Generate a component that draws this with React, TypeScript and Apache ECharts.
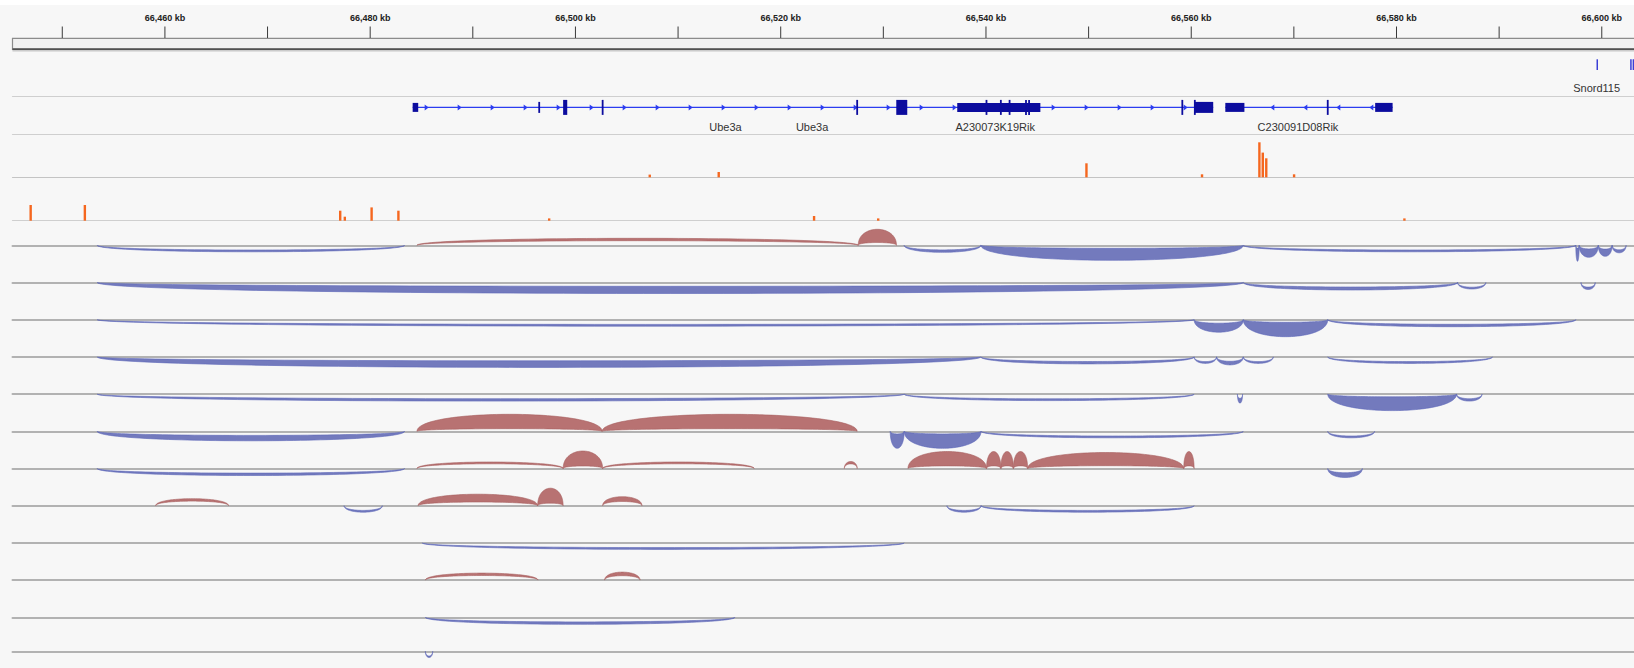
import React, { useEffect, useRef } from "react";
import * as echarts from "echarts";

// ---------- data (genomic positions in kb) ----------
const VIEW_START_KB = 66445.15;
const VIEW_END_KB = 66603.14;

const rulerTicksKb = [66450, 66460, 66470, 66480, 66490, 66500, 66510, 66520, 66530, 66540, 66550, 66560, 66570, 66580, 66590, 66600];
const rulerLabelStepKb = 20;

const snordMarksKb = [66599.56, 66602.84, 66603.08];
const snordLabelText = "Snord115";
const snordLabelKb = 66599.5;

// [start, end, strand]
const geneIntrons = [
  [66484.14, 66562.14, 1],
  [66563.32, 66579.62, -1],
];
// [start, end, kind] kind: 0 = UTR, 1 = medium, 2 = coding (tall)
const geneExons = [
  [66484.14, 66484.68, 0],
  [66496.47, 66496.47, 1],
  [66498.8, 66499.2, 2],
  [66502.65, 66502.65, 2],
  [66527.45, 66527.45, 2],
  [66531.26, 66532.33, 2],
  [66537.2, 66545.3, 0],
  [66540.05, 66540.05, 2],
  [66541.45, 66541.45, 2],
  [66542.3, 66542.3, 2],
  [66543.9, 66543.9, 2],
  [66544.2, 66544.2, 2],
  [66559.13, 66559.13, 2],
  [66560.35, 66560.35, 2],
  [66560.35, 66562.14, 1],
  [66563.32, 66565.18, 0],
  [66573.3, 66573.3, 2],
  [66577.92, 66579.62, 0],
];
const geneLabelNames = ["Ube3a", "Ube3a", "A230073K19Rik", "C230091D08Rik"];
const geneLabelKb = [66514.62, 66523.06, 66540.9, 66570.4];

const coverageTopKb = [66507.24, 66513.96, 66549.79, 66561.05, 66566.64, 66566.97, 66567.31, 66570.02];
const coverageTopValues = [2.7, 5.3, 14, 3, 35, 24.7, 19, 3];
const coverageBottomKb = [66446.92, 66452.2, 66477.08, 66477.53, 66480.14, 66482.75, 66497.44, 66523.25, 66529.5, 66580.77];
const coverageBottomValues = [15.7, 15.7, 10, 4, 13.3, 10, 2.3, 4.7, 2.3, 2.3];

// junctions per sample: [start, end, depth, strand(+1 up / -1 down)]
const junctionsRow1 = [
  [66453.4, 66483.35, 6.5, -1],
  [66484.56, 66527.55, 7, 1],
  [66527.55, 66531.28, 16, 1],
  [66532.03, 66539.5, 7, -1],
  [66539.5, 66565.07, 15, -1],
  [66565.07, 66597.47, 6.5, -1],
  [66597.47, 66597.8, 16, -1],
  [66597.8, 66599.66, 12, -1],
  [66599.66, 66601.01, 11, -1],
  [66601.01, 66602.37, 7.5, -1],
];
const junctionsRow2 = [
  [66453.4, 66565.07, 11, -1],
  [66565.07, 66585.95, 7.5, -1],
  [66585.95, 66588.7, 6.5, -1],
  [66597.98, 66599.36, 7, -1],
];
const junctionsRow3 = [
  [66453.4, 66560.28, 6.5, -1],
  [66560.28, 66565.07, 12.5, -1],
  [66565.07, 66573.3, 17, -1],
  [66573.3, 66597.47, 7, -1],
];
const junctionsRow4 = [
  [66453.4, 66539.5, 10.5, -1],
  [66539.5, 66560.28, 7, -1],
  [66560.28, 66562.47, 6.5, -1],
  [66562.47, 66565.07, 8, -1],
  [66565.07, 66567.99, 6.5, -1],
  [66573.3, 66589.35, 6.5, -1],
];
const junctionsRow5 = [
  [66453.4, 66532.03, 7, -1],
  [66532.03, 66560.28, 6.5, -1],
  [66564.5, 66565.0, 9, -1],
  [66573.3, 66585.85, 16.5, -1],
  [66585.85, 66588.33, 7, -1],
];
const junctionsRow6 = [
  [66453.4, 66483.35, 9.5, -1],
  [66484.56, 66502.6, 17, 1],
  [66502.6, 66527.45, 17, 1],
  [66530.67, 66532.03, 17, -1],
  [66532.03, 66539.52, 17, -1],
  [66539.52, 66565.07, 6.5, -1],
  [66573.3, 66577.86, 6.5, -1],
];
const junctionsRow7 = [
  [66453.4, 66483.35, 7, -1],
  [66484.56, 66498.8, 6.5, 1],
  [66498.8, 66502.65, 17.5, 1],
  [66502.65, 66517.41, 6.5, 1],
  [66526.2, 66527.45, 7, 1],
  [66532.4, 66540.05, 17, 1],
  [66540.05, 66541.45, 17, 1],
  [66541.45, 66542.67, 17, 1],
  [66542.67, 66544.06, 17, 1],
  [66544.06, 66559.27, 16, 1],
  [66559.27, 66560.28, 17, 1],
  [66573.3, 66576.67, 9, -1],
];
const junctionsRow8 = [
  [66459.1, 66466.2, 7, 1],
  [66477.46, 66481.18, 6.5, -1],
  [66484.67, 66496.32, 11.5, 1],
  [66496.32, 66498.8, 17.5, 1],
  [66502.65, 66506.48, 9, 1],
  [66536.2, 66539.52, 6.5, -1],
  [66539.52, 66560.28, 6.5, -1],
];
const junctionsRow9 = [[66485.07, 66532.03, 6.5, -1]];
const junctionsRow10 = [
  [66485.38, 66496.34, 7, 1],
  [66502.84, 66506.29, 8, 1],
];
const junctionsRow11 = [[66485.38, 66515.53, 7, -1]];
const junctionsRow12 = [[66485.38, 66486.09, 7.5, -1]];

const junctionRows = [
  junctionsRow1, junctionsRow2, junctionsRow3, junctionsRow4, junctionsRow5, junctionsRow6,
  junctionsRow7, junctionsRow8, junctionsRow9, junctionsRow10, junctionsRow11, junctionsRow12,
];

// ---------- styles / layout ----------
const W = 1634;
const H = 668;
const GRID_LEFT = 12.5;
const FONT = '"Liberation Sans", Arial, sans-serif';
const RED_FILL = "#b87272";
const RED_STROKE = "#a65e5e";
const BLUE_FILL = "#737abd";
const BLUE_STROKE = "#5d66b8";
const GENE_LINE = "#2b3cf0";
const GENE_EXON = "#0c0c9e";
const COVERAGE = "#f5671f";
const EXON_H = [9, 11, 15];

function fmtKb(v: number) {
  const k = Math.floor(v / 1000);
  const r = String(v % 1000).padStart(3, "0");
  return `${k},${r} kb`;
}

function buildOption() {
  const grids: any[] = [];
  const xAxes: any[] = [];
  const yAxes: any[] = [];
  const addGrid = (top: number, height: number, yMin: number, yMax: number, line?: any) => {
    const idx = grids.length;
    grids.push({ left: GRID_LEFT, right: 0, top, height });
    xAxes.push({
      type: "value",
      gridIndex: idx,
      min: VIEW_START_KB,
      max: VIEW_END_KB,
      show: !!line,
      axisLine: line ? { show: true, onZero: true, lineStyle: line } : { show: false },
      axisTick: { show: false },
      axisLabel: { show: false },
      splitLine: { show: false },
    });
    yAxes.push({ type: "value", gridIndex: idx, min: yMin, max: yMax, show: false, splitLine: { show: false } });
    return idx;
  };

  const sepLine = { color: "#cfcfcf", width: 1.2 };
  const gRuler = addGrid(0, 50, 0, 1);
  const gSnord = addGrid(50, 46, 0, 1, sepLine);
  const gGene = addGrid(96, 38, 0, 1, sepLine);
  const gCovA = addGrid(134, 43.3, 0, 43.3, { color: "#c4c4c4", width: 1.2 });
  const gCovB = addGrid(177.3, 43.4, 0, 43.4, sepLine);
  const sashimiGrids = junctionRows.map((_, k) => {
    const base = 245.3 + 37.2 * k;
    return addGrid(base - 20, 40, -20, 20, { color: "#b2b2b2", width: 2 });
  });

  const series: any[] = [];

  // ruler ticks & labels
  series.push({
    type: "custom",
    xAxisIndex: gRuler,
    yAxisIndex: gRuler,
    silent: true,
    encode: { x: 0 },
    data: rulerTicksKb.map((v) => [v]),
    renderItem: (params: any, api: any) => {
      const v = api.value(0);
      const x = api.coord([v, 0])[0];
      const top = params.coordSys.y;
      const children: any[] = [
        { type: "line", shape: { x1: x, y1: top + 26.5, x2: x, y2: top + 38 }, style: { stroke: "#3a3a3a", lineWidth: 1 } },
      ];
      if (Math.round(v) % rulerLabelStepKb === 0) {
        children.push({
          type: "text",
          x,
          y: top + 17.5,
          style: { text: fmtKb(Math.round(v)), fill: "#222", font: `bold 9px ${FONT}`, align: "center", verticalAlign: "middle" },
        });
      }
      return { type: "group", children };
    },
  });

  // Snord115 marks
  series.push({
    type: "custom",
    xAxisIndex: gSnord,
    yAxisIndex: gSnord,
    silent: true,
    encode: { x: 0 },
    data: snordMarksKb.map((v) => [v]),
    renderItem: (params: any, api: any) => {
      const x = api.coord([api.value(0), 0])[0];
      const top = params.coordSys.y;
      return { type: "line", shape: { x1: x, y1: top + 9.3, x2: x, y2: top + 20 }, style: { stroke: "#3b3fd6", lineWidth: 1.5 } };
    },
  });
  series.push({
    type: "custom",
    xAxisIndex: gSnord,
    yAxisIndex: gSnord,
    silent: true,
    encode: { x: 0 },
    data: [[snordLabelKb]],
    renderItem: (params: any, api: any) => {
      const x = api.coord([api.value(0), 0])[0];
      return {
        type: "text",
        x,
        y: params.coordSys.y + 38.3,
        style: { text: snordLabelText, fill: "#333", font: `11px ${FONT}`, align: "center", verticalAlign: "middle" },
      };
    },
  });

  // gene introns + strand arrows
  series.push({
    type: "custom",
    xAxisIndex: gGene,
    yAxisIndex: gGene,
    silent: true,
    encode: { x: [0, 1] },
    data: geneIntrons,
    renderItem: (params: any, api: any) => {
      const x0 = api.coord([api.value(0), 0])[0];
      const x1 = api.coord([api.value(1), 0])[0];
      const strand = api.value(2);
      const cy = params.coordSys.y + 11.4;
      const children: any[] = [
        { type: "line", shape: { x1: x0, y1: cy, x2: x1, y2: cy }, style: { stroke: GENE_LINE, lineWidth: 1.2 } },
      ];
      for (let ax = x0 + 14; ax < x1 - 6; ax += 33) {
        const pts = strand > 0
          ? [[ax - 2, cy - 3], [ax + 2, cy], [ax - 2, cy + 3]]
          : [[ax + 2, cy - 3], [ax - 2, cy], [ax + 2, cy + 3]];
        children.push({ type: "polygon", shape: { points: pts }, style: { fill: GENE_LINE } });
      }
      return { type: "group", children };
    },
  });
  // exons
  series.push({
    type: "custom",
    xAxisIndex: gGene,
    yAxisIndex: gGene,
    silent: true,
    encode: { x: [0, 1] },
    data: geneExons,
    renderItem: (params: any, api: any) => {
      const x0 = api.coord([api.value(0), 0])[0];
      const x1 = api.coord([api.value(1), 0])[0];
      const h = EXON_H[api.value(2)];
      const cy = params.coordSys.y + 11.4;
      const w = Math.max(x1 - x0, 1.8);
      const x = x1 - x0 < 1.8 ? (x0 + x1) / 2 - 0.9 : x0;
      return { type: "rect", shape: { x, y: cy - h / 2, width: w, height: h }, style: { fill: GENE_EXON } };
    },
  });
  // gene labels
  series.push({
    type: "custom",
    xAxisIndex: gGene,
    yAxisIndex: gGene,
    silent: true,
    encode: { x: 0 },
    data: geneLabelKb.map((v) => [v]),
    renderItem: (params: any, api: any) => {
      const x = api.coord([api.value(0), 0])[0];
      return {
        type: "text",
        x,
        y: params.coordSys.y + 30.7,
        style: { text: geneLabelNames[params.dataIndex], fill: "#333", font: `11px ${FONT}`, align: "center", verticalAlign: "middle" },
      };
    },
  });

  // coverage bars
  series.push({
    type: "bar",
    xAxisIndex: gCovA,
    yAxisIndex: gCovA,
    silent: true,
    barWidth: 2.4,
    itemStyle: { color: COVERAGE },
    data: coverageTopKb.map((k, i) => [k, coverageTopValues[i]]),
  });
  series.push({
    type: "bar",
    xAxisIndex: gCovB,
    yAxisIndex: gCovB,
    silent: true,
    barWidth: 2.4,
    itemStyle: { color: COVERAGE },
    data: coverageBottomKb.map((k, i) => [k, coverageBottomValues[i]]),
  });

  // sashimi arcs
  junctionRows.forEach((rows, k) => {
    const gi = sashimiGrids[k];
    series.push({
      type: "custom",
      xAxisIndex: gi,
      yAxisIndex: gi,
      silent: true,
      encode: { x: [0, 1], y: 2 },
      data: rows,
      renderItem: (params: any, api: any) => {
        const s = api.value(0);
        const e = api.value(1);
        const d = api.value(2);
        const dir = api.value(3);
        const p0 = api.coord([s, 0]);
        const p1 = api.coord([e, 0]);
        const pt = api.coord([s, d * dir]);
        const hgt = Math.abs(pt[1] - p0[1]);
        const t = Math.max(1.2, Math.min((hgt - 5) * 1.2, hgt - 1.5));
        const sign = dir > 0 ? -1 : 1;
        const y0 = p0[1];
        const x0 = p0[0];
        const x1 = p1[0];
        const c1 = hgt / 0.75;
        const c2 = (hgt - t) / 0.75;
        const N = 64;
        const outer: number[][] = [];
        const inner: number[][] = [];
        for (let i = 0; i <= N; i++) {
          const u = i / N;
          const fx = 3 * u * u - 2 * u * u * u;
          const fy = 3 * u * (1 - u);
          const x = x0 + (x1 - x0) * fx;
          outer.push([x, y0 + sign * c1 * fy]);
          inner.push([x, y0 + sign * c2 * fy]);
        }
        const pts = outer.concat(inner.reverse());
        const up = dir > 0;
        return {
          type: "polygon",
          shape: { points: pts },
          style: { fill: up ? RED_FILL : BLUE_FILL, stroke: up ? RED_STROKE : BLUE_STROKE, lineWidth: 0.6 },
        };
      },
    });
  });

  const graphic = [
    { type: "rect", shape: { x: 0, y: 0, width: W, height: 5 }, style: { fill: "#ffffff" }, silent: true },
    {
      type: "rect",
      shape: { x: GRID_LEFT, y: 38.3, width: W - GRID_LEFT + 2, height: 11 },
      style: { fill: "#f1f1f1", stroke: "#8c8c8c", lineWidth: 1.2 },
      silent: true,
    },
    { type: "line", shape: { x1: GRID_LEFT, y1: 49.3, x2: W, y2: 49.3 }, style: { stroke: "#505050", lineWidth: 2 }, silent: true },
    { type: "line", shape: { x1: GRID_LEFT, y1: 51, x2: W, y2: 51 }, style: { stroke: "#c8c8c8", lineWidth: 1 }, silent: true },
  ];

  return {
    animation: false,
    backgroundColor: "#f7f7f7",
    grid: grids,
    xAxis: xAxes,
    yAxis: yAxes,
    series,
    graphic,
  };
}

export default function App() {
  const ref = useRef<HTMLDivElement>(null);
  useEffect(() => {
    if (!ref.current) return;
    const chart = echarts.init(ref.current, undefined, { renderer: "svg", width: W, height: H });
    chart.setOption(buildOption() as any);
    return () => chart.dispose();
  }, []);
  return (
    <div
      ref={ref}
      style={{ position: "absolute", left: 0, top: 0, width: W, height: H, background: "#f7f7f7" }}
    />
  );
}
